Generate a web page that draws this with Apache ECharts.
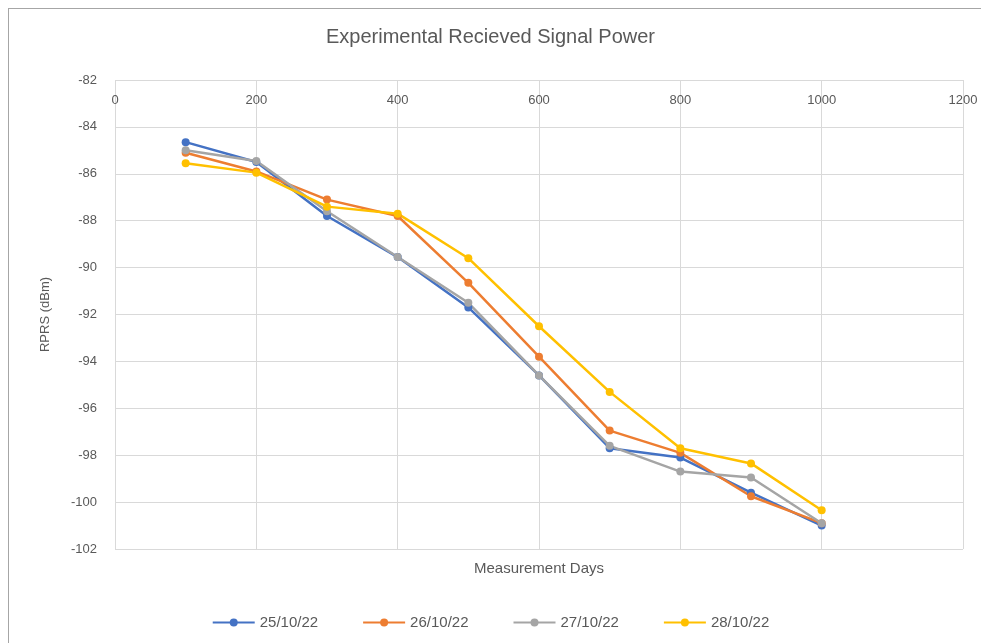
<!DOCTYPE html>
<html>
<head>
<meta charset="utf-8">
<script src="https://cdn.jsdelivr.net/npm/echarts@6/dist/echarts.min.js"></script>
<style>
  body { margin: 0; background: #fff; }
  #frame { position: absolute; left: 8px; top: 8px; width: 990px; height: 650px; border: 1px solid #a6a6a6; }
  #chart { position: absolute; left: 0; top: 0; width: 981px; height: 643px; }
</style>
</head>
<body>
<div id="frame"></div>
<div id="chart"></div>
<script>
// measurement days
const days = [100, 200, 300, 400, 500, 600, 700, 800, 900, 1000]
// received power per date (dBm)
const s25 = [-84.65, -85.5, -87.8, -89.55, -91.7, -94.6, -97.7, -98.1, -99.6, -101.0]
const s26 = [-85.1, -85.9, -87.1, -87.8, -90.65, -93.8, -96.95, -97.9, -99.75, -100.9]
const s27 = [-85.0, -85.45, -87.6, -89.55, -91.5, -94.6, -97.6, -98.7, -98.95, -100.9]
const s28 = [-85.55, -85.95, -87.4, -87.7, -89.6, -92.5, -95.3, -97.7, -98.35, -100.35]
const names = ['25/10/22', '26/10/22', '27/10/22', '28/10/22']
const colors = ['#4472C4', '#ED7D31', '#A5A5A5', '#FFC000']

const chart = echarts.init(document.getElementById('chart'))
const font = 'Liberation Sans'

function line(name, vals, color) {
    return {
        name: name,
        type: 'line',
        data: days.map((d, i) => [d, vals[i]]),
        symbol: 'circle',
        symbolSize: 8,
        lineStyle: { width: 2.5, color: color },
        itemStyle: { color: color },
    }
}

chart.setOption({
    color: colors,
    title: {
        text: 'Experimental Recieved Signal Power',
        left: 'center',
        top: 22,
        textStyle: { fontFamily: font, fontSize: 20, fontWeight: 'normal', color: '#595959' },
    },
    legend: {
        bottom: 8,
        left: 'center',
        itemWidth: 42,
        itemHeight: 10,
        itemGap: 44,
        textStyle: { fontFamily: font, fontSize: 15, color: '#595959' },
        data: names,
    },
    grid: { left: 115, right: 18, top: 80, bottom: 94 },
    xAxis: {
        type: 'value',
        position: 'top',
        min: 0,
        max: 1200,
        interval: 200,
        name: 'Measurement Days',
        nameLocation: 'middle',
        nameGap: -496,
        nameTextStyle: { fontFamily: font, fontSize: 15, color: '#595959' },
        axisLine: { show: false },
        axisTick: { show: false },
        axisLabel: { inside: true, margin: 14, fontFamily: font, fontSize: 13, color: '#595959', formatter: v => String(v) },
        splitLine: { lineStyle: { color: '#d9d9d9' } },
    },
    yAxis: {
        type: 'value',
        min: -102,
        max: -82,
        interval: 2,
        name: 'RPRS (dBm)',
        nameLocation: 'middle',
        nameGap: 63,
        nameTextStyle: { fontFamily: font, fontSize: 13, color: '#595959' },
        axisLine: { show: false },
        axisTick: { show: false },
        axisLabel: { margin: 18, fontFamily: font, fontSize: 13, color: '#595959' },
        splitLine: { lineStyle: { color: '#d9d9d9' } },
    },
    series: [
        line(names[0], s25, colors[0]),
        line(names[1], s26, colors[1]),
        line(names[2], s27, colors[2]),
        line(names[3], s28, colors[3]),
    ],
})
</script>
</body>
</html>
